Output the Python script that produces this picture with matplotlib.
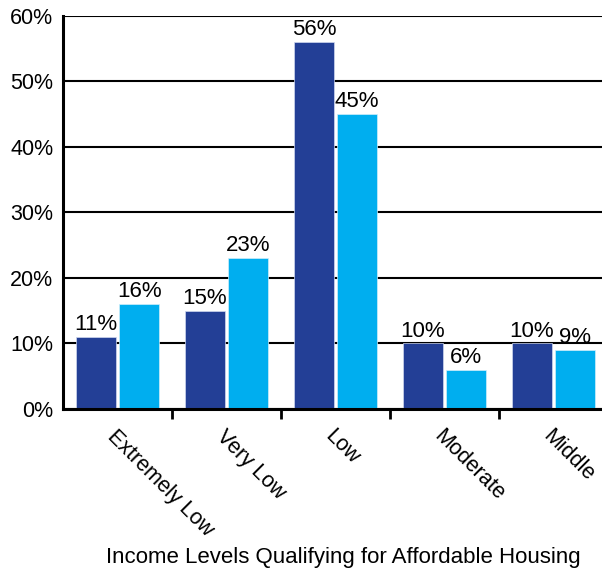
import numpy as np
import matplotlib.pyplot as plt
from matplotlib.ticker import FixedLocator

# income bands and the two series (percent)
levels = ['Extremely Low', 'Very Low', 'Low', 'Moderate', 'Middle']
series_a = [11, 15, 56, 10, 10]
series_b = [16, 23, 45, 6, 9]
yticks = [0, 10, 20, 30, 40, 50, 60]

dark = '#233F96'
light = '#00AEEF'

plt.rcParams['font.family'] = ['Liberation Sans', 'DejaVu Sans']

fig = plt.figure(figsize=(6.02, 5.69), dpi=100)
# the plot area runs a little past the right edge of the figure
ax = fig.add_axes([0.1047, 0.2812, 0.9053, 0.6907])

x = np.arange(len(levels))
w = 0.367
off = 0.198
bars_a = ax.bar(x - off, series_a, w, color=dark, edgecolor='#d0d8ee', linewidth=0.5, zorder=3)
bars_b = ax.bar(x + off, series_b, w, color=light, edgecolor='#d0eefa', linewidth=0.5, zorder=3)

for bars, vals in ((bars_a, series_a), (bars_b, series_b)):
    for b, v in zip(bars, vals):
        ax.text(b.get_x() + b.get_width() / 2, v + 0.3, f'{v}%',
                ha='center', va='bottom', fontsize=16, zorder=4)

ax.set_xlim(-0.5, len(levels) - 0.5)
ax.set_ylim(0, 60)
ax.set_yticks(yticks)
ax.set_yticklabels([f'{t}%' for t in yticks], fontsize=15.5)
ax.yaxis.grid(True, color='black', linewidth=1.5, zorder=0)
ax.tick_params(axis='y', length=0, pad=7)

ax.set_xticks(x)
ax.set_xticklabels(levels, rotation=-45, ha='left', rotation_mode='anchor', fontsize=15.5)
ax.xaxis.set_minor_locator(FixedLocator(np.arange(0.5, len(levels) - 0.5, 1)))
ax.tick_params(axis='x', which='major', length=0, pad=12)
ax.tick_params(axis='x', which='minor', length=7, width=2, direction='out')

for s in ('top', 'right'):
    ax.spines[s].set_visible(False)
for s in ('left', 'bottom'):
    ax.spines[s].set_linewidth(2.2)
    ax.spines[s].set_zorder(5)

ax.set_xlabel('Income Levels Qualifying for Affordable Housing', fontsize=16, va='center')
ax.xaxis.set_label_coords(0.514, -0.377)

fig.savefig('out.png', dpi=100)
